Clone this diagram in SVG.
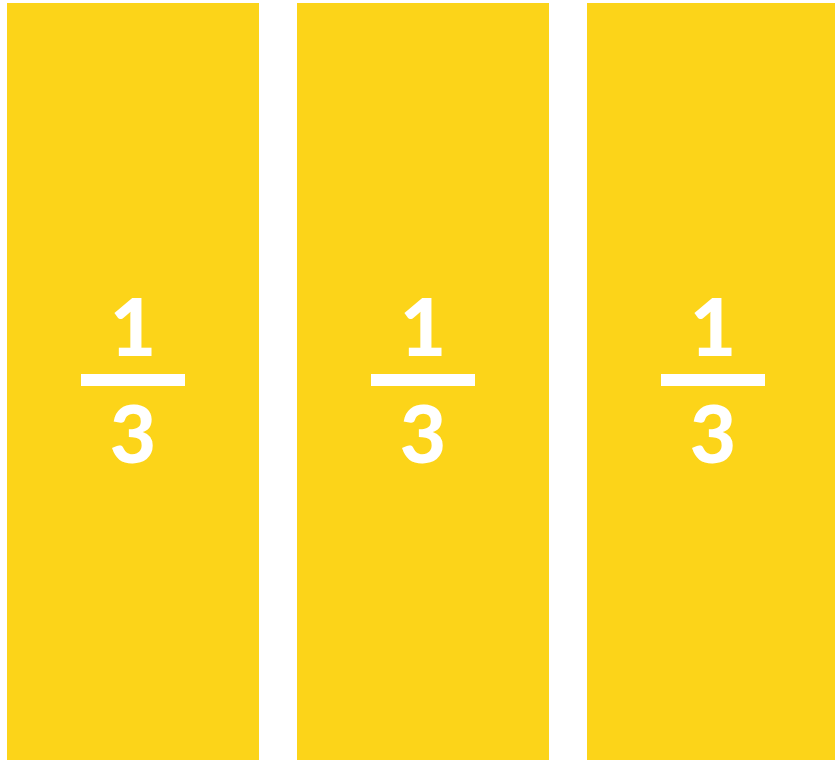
<svg xmlns="http://www.w3.org/2000/svg" width="835" height="763" viewBox="0 0 835 763">
<style>
.panel{fill:#FCD419}
.bar{fill:#FFFFFF}
.num{font-family:Lato,"Open Sans","Liberation Sans",sans-serif;font-weight:900;font-size:80px;fill:#FFFFFF;text-anchor:middle}
</style>
<rect width="835" height="763" fill="#FFFFFF"/>
<g id="third1">
<rect class="panel" x="7" y="3" width="252" height="757"/>
<text class="num" x="133" y="356">1</text>
<rect class="bar" x="81" y="374" width="104" height="12"/>
<text class="num" x="133" y="463">3</text>
</g>
<g id="third2">
<rect class="panel" x="297" y="3" width="252" height="757"/>
<text class="num" x="423" y="356">1</text>
<rect class="bar" x="371" y="374" width="104" height="12"/>
<text class="num" x="423" y="463">3</text>
</g>
<g id="third3">
<rect class="panel" x="587" y="3" width="252" height="757"/>
<text class="num" x="713" y="356">1</text>
<rect class="bar" x="661" y="374" width="104" height="12"/>
<text class="num" x="713" y="463">3</text>
</g>
<g id="connectors"></g>
</svg>
